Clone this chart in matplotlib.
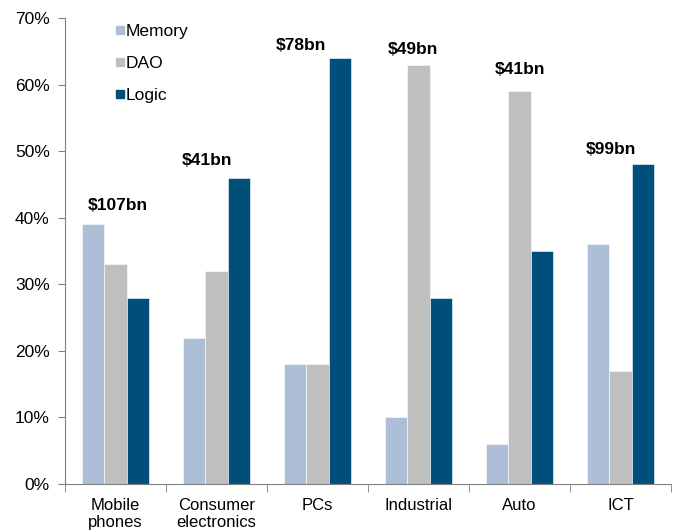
import matplotlib
matplotlib.use("Agg")
import matplotlib.pyplot as plt
import numpy as np
from matplotlib.lines import Line2D
from matplotlib.ticker import FixedLocator, FuncFormatter

plt.rcParams['font.family'] = ['Liberation Sans', 'DejaVu Sans']

categories = ["Mobile\nphones", "Consumer\nelectronics", "PCs", "Industrial", "Auto", "ICT"]
memory = [39, 22, 18, 10, 6, 36]
dao = [33, 32, 18, 63, 59, 17]
logic = [28, 46, 64, 28, 35, 48]
totals = ["$107bn", "$41bn", "$78bn", "$49bn", "$41bn", "$99bn"]
label_y = [41.9, 48.6, 65.9, 65.3, 62.3, 50.3]
label_dx = [0.02, -0.094, -0.168, -0.054, 0.01, -0.094]

series = [("Memory", memory, "#adbfd6"), ("DAO", dao, "#bfbfbf"), ("Logic", logic, "#004f7a")]

fig = plt.figure(figsize=(6.74, 5.32), dpi=100)
ax = fig.add_axes([0.0964, 0.0902, 0.8991, 0.8760])

x = np.arange(len(categories))
w = 0.221
for i, (name, vals, col) in enumerate(series):
    ax.bar(x + (i - 1) * w, vals, width=w, color=col, edgecolor="white", linewidth=0.4, label=name)

for xi, t, ly, dx in zip(x, totals, label_y, label_dx):
    ax.text(xi + dx, ly, t, ha="center", va="center", fontsize=12.5, fontweight="bold", color="black")

ax.set_xlim(-0.5, len(categories) - 0.5)
ax.set_ylim(0, 70)
ax.set_yticks(np.arange(0, 71, 10))
ax.yaxis.set_major_formatter(FuncFormatter(lambda v, p: f"{int(v)}%"))
ax.set_xticks(x)
ax.set_xticklabels(categories, fontsize=12, linespacing=1.15)
ax.xaxis.set_minor_locator(FixedLocator(np.arange(-0.5, len(categories) - 0.4, 1.0)))
ax.tick_params(axis="x", which="major", length=0, pad=10)
ax.tick_params(axis="x", which="minor", length=6, color="#808080", direction="out")
ax.tick_params(axis="y", length=5, color="#808080", labelsize=12.5, pad=6)

for s in ["top", "right"]:
    ax.spines[s].set_visible(False)
for s in ["left", "bottom"]:
    ax.spines[s].set_color("#808080")
    ax.spines[s].set_linewidth(0.8)

handles = [Line2D([0], [0], marker="s", linestyle="none", markersize=6, markerfacecolor=c, markeredgecolor=c)
           for _, _, c in series]
leg = ax.legend(handles, [n for n, _, _ in series], loc="upper left", bbox_to_anchor=(0.06, 1.017),
                frameon=False, fontsize=12.5, handlelength=0.5, handletextpad=0.1, labelspacing=0.98,
                borderpad=0.3)

fig.savefig("out.png", dpi=100)
